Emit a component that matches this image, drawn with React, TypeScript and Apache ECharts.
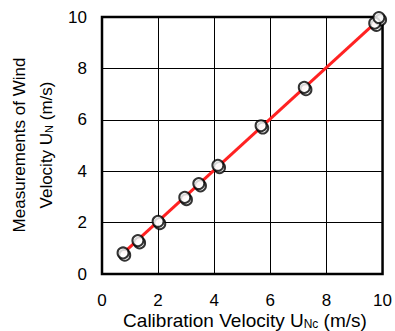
import React, { useEffect, useRef } from "react";
import * as echarts from "echarts";

const calX = [0.75, 1.28, 2.0, 2.95, 3.45, 4.13, 5.67, 7.21, 9.72, 9.87];
const measY = [0.82, 1.3, 2.05, 2.98, 3.52, 4.23, 5.77, 7.26, 9.76, 9.98];
const calX2 = [0.81, 1.34, 2.06, 3.01, 3.51, 4.19, 5.73, 7.27, 9.78, 9.93];
const measY2 = [0.73, 1.21, 1.96, 2.89, 3.43, 4.14, 5.68, 7.17, 9.67, 9.89];
const fitX = [0.75, 9.75];
const fitY = [0.8, 9.78];
const ticks = [0, 2, 4, 6, 8, 10];

const FONT = "Liberation Sans";

export default function App() {
  const ref = useRef<HTMLDivElement>(null);
  useEffect(() => {
    if (!ref.current) return;
    const chart = echarts.init(ref.current, null, { renderer: "svg" });
    const pts = calX.map((x, i) => [x, measY[i]]);
    const pts2 = calX2.map((x, i) => [x, measY2[i]]);
    const fit = fitX.map((x, i) => [x, fitY[i]]);
    chart.setOption({
      animation: false,
      backgroundColor: "#ffffff",
      grid: {
        left: 102,
        right: 11,
        top: 17,
        bottom: 57,
        show: true,
        borderColor: "#000",
        borderWidth: 2.5,
        backgroundColor: "transparent",
      },
      xAxis: {
        type: "value",
        min: ticks[0],
        max: ticks[ticks.length - 1],
        interval: 2,
        axisLine: { show: false },
        axisTick: { show: false },
        splitLine: { show: true, lineStyle: { color: "#000", width: 1 } },
        axisLabel: { color: "#000", fontSize: 17, fontFamily: FONT, margin: 18 },
      },
      yAxis: {
        type: "value",
        min: ticks[0],
        max: ticks[ticks.length - 1],
        interval: 2,
        axisLine: { show: false },
        axisTick: { show: false },
        splitLine: { show: true, lineStyle: { color: "#000", width: 1 } },
        axisLabel: { color: "#000", fontSize: 17, fontFamily: FONT, margin: 15 },
      },
      graphic: [
        {
          type: "text",
          x: 19,
          y: 145,
          rotation: Math.PI / 2,
          style: {
            text: "Measurements of Wind",
            fontSize: 17,
            fontFamily: FONT,
            fill: "#000",
            align: "center",
            verticalAlign: "middle",
          },
        },
        {
          type: "text",
          x: 46,
          y: 145,
          rotation: Math.PI / 2,
          style: {
            text: "Velocity U{sub|N} (m/s)",
            fontSize: 17,
            fontFamily: FONT,
            fill: "#000",
            align: "center",
            verticalAlign: "middle",
            rich: {
              sub: { fontSize: 11, fontFamily: FONT, fill: "#000", verticalAlign: "bottom", lineHeight: 12 },
            },
          },
        },
        {
          type: "text",
          x: 245,
          y: 320,
          style: {
            text: "Calibration Velocity U{sub|Nc} (m/s)",
            fontSize: 19,
            fontFamily: FONT,
            fill: "#000",
            align: "center",
            verticalAlign: "middle",
            rich: {
              sub: { fontSize: 12, fontFamily: FONT, fill: "#000", verticalAlign: "bottom", lineHeight: 12 },
            },
          },
        },
      ],
      series: [
        {
          type: "line",
          data: fit,
          symbol: "none",
          lineStyle: { color: "#ff2222", width: 3 },
          z: 2,
        },
        {
          type: "scatter",
          data: pts2,
          symbol: "circle",
          symbolSize: 11,
          itemStyle: { color: "#fff", borderColor: "#000", borderWidth: 2 },
          z: 3,
        },
        {
          type: "scatter",
          data: pts,
          symbol: "circle",
          symbolSize: 11,
          itemStyle: { color: "#fff", borderColor: "#000", borderWidth: 2 },
          z: 4,
        },
      ],
    });
    return () => chart.dispose();
  }, []);
  return <div ref={ref} style={{ width: 395, height: 331, position: "absolute", left: 0, top: 0 }} />;
}
